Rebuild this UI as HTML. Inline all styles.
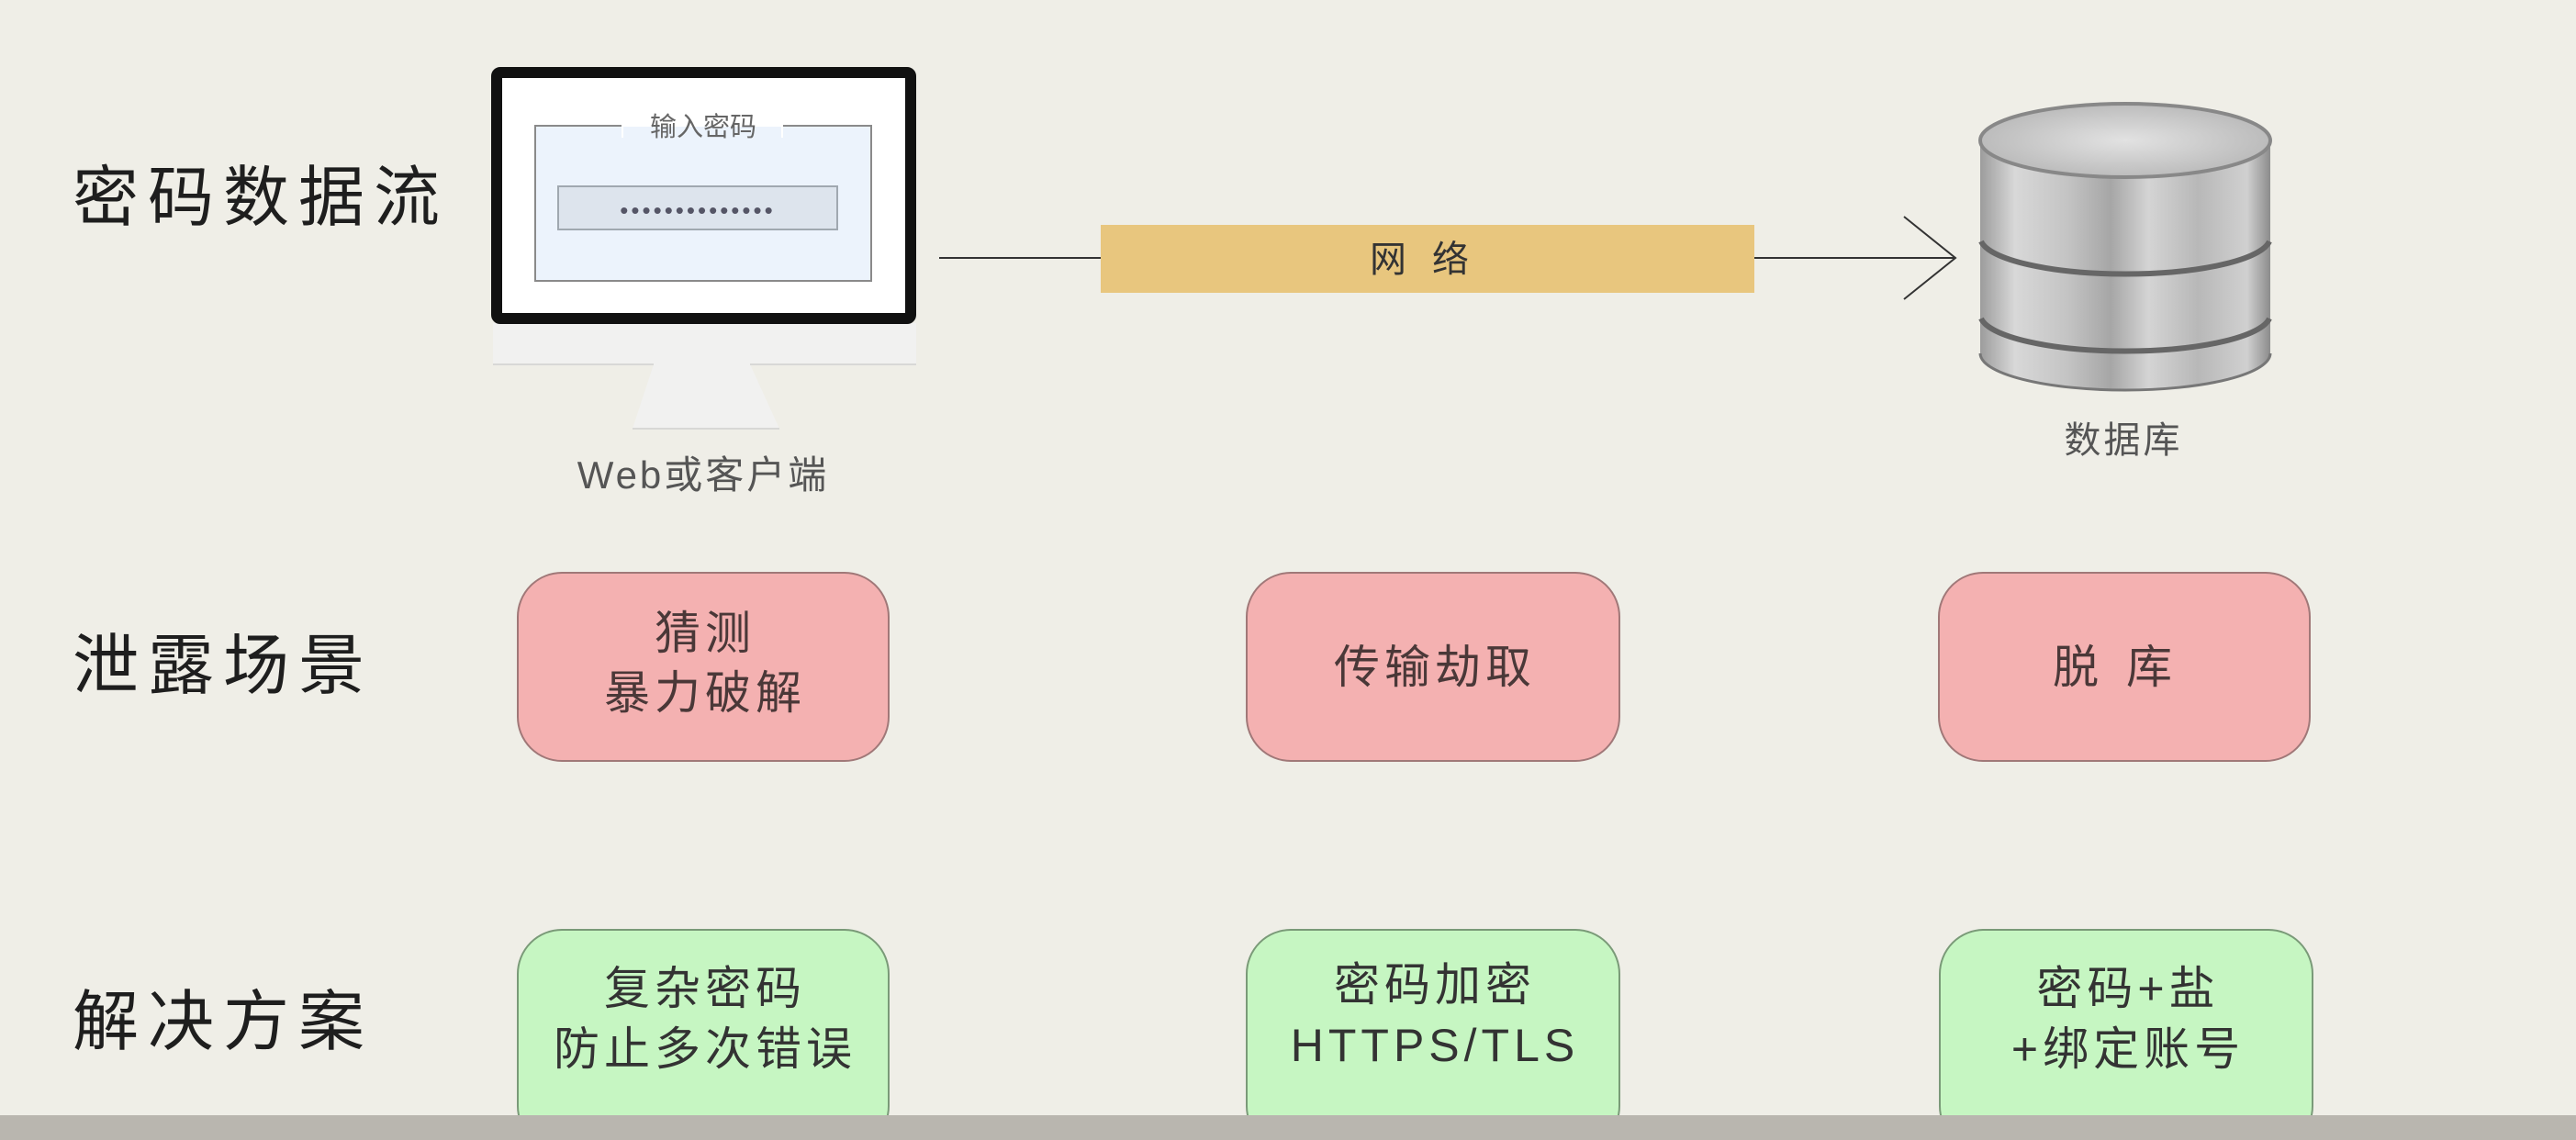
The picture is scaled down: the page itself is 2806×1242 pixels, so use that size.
<!DOCTYPE html>
<html><head><meta charset="utf-8"><style>
html,body{margin:0;padding:0;background:#efeee7;}
svg{display:block}
text{font-family:"Liberation Sans","Noto Sans CJK SC",sans-serif;}
</style></head><body>
<svg width="2806" height="1242" viewBox="0 0 2806 1242" xmlns="http://www.w3.org/2000/svg">
<defs>
<linearGradient id="cyl" x1="0" x2="1" y1="0" y2="0">
<stop offset="0" stop-color="#9c9c9c"/><stop offset="0.12" stop-color="#d8d8d8"/><stop offset="0.3" stop-color="#c4c4c4"/><stop offset="0.45" stop-color="#a6a6a6"/><stop offset="0.58" stop-color="#d4d4d4"/><stop offset="0.75" stop-color="#b8b8b8"/><stop offset="0.92" stop-color="#d0d0d0"/><stop offset="1" stop-color="#8c8c8c"/>
</linearGradient>
<radialGradient id="top" cx="0.5" cy="0.5" r="0.6"><stop offset="0" stop-color="#e2e2e2"/><stop offset="1" stop-color="#b4b4b4"/></radialGradient>
</defs>
<rect width="2806" height="1242" fill="#efeee7"/>
<g font-size="72" fill="#1e1e1e" letter-spacing="10">
<text x="79" y="240">密码数据流</text>
<text x="79" y="750">泄露场景</text>
<text x="79" y="1138">解决方案</text>
</g>
<!-- monitor -->
<path d="M537 352 H998 V397 H817 L849 467 H689 L712 397 H537 Z" fill="#f1f1f0"/>
<line x1="537" y1="397" x2="712" y2="397" stroke="#d8d8d6" stroke-width="2"/>
<line x1="817" y1="397" x2="998" y2="397" stroke="#d8d8d6" stroke-width="2"/>
<line x1="689" y1="467" x2="849" y2="467" stroke="#d8d8d6" stroke-width="2"/>
<rect x="541" y="79" width="451" height="268" rx="4" fill="#fff" stroke="#111" stroke-width="12"/>
<rect x="583" y="137" width="366" height="169" fill="#ecf3fc" stroke="#8a8a8a" stroke-width="2"/>
<rect x="677" y="124" width="176" height="26" fill="#fff"/>
<rect x="679" y="138" width="172" height="12" fill="#ecf3fc"/>
<text x="766" y="148" font-size="29" fill="#666" text-anchor="middle">输入密码</text>
<rect x="608" y="203" width="304" height="47" fill="#dde4ed" stroke="#a0a8b0" stroke-width="2"/>
<text x="760" y="238" font-size="26" fill="#556" text-anchor="middle" letter-spacing="3">••••••••••••••</text>
<text x="766" y="532" font-size="42" fill="#555" text-anchor="middle" letter-spacing="3">Web或客户端</text>
<!-- network -->
<line x1="1023" y1="281" x2="1199" y2="281" stroke="#333" stroke-width="2"/>
<rect x="1199" y="245" width="712" height="74" fill="#e8c67e"/>
<text x="1560" y="296" font-size="40" fill="#333" text-anchor="middle" letter-spacing="28">网络</text>
<line x1="1911" y1="281" x2="2130" y2="281" stroke="#333" stroke-width="2"/>
<polyline points="2074,236 2130,281 2074,326" fill="none" stroke="#333" stroke-width="2"/>
<!-- database -->
<path d="M2157 153 V385 A158 40 0 0 0 2473 385 V153 Z" fill="url(#cyl)"/>
<path d="M2158 263 A158 40 0 0 0 2472 263" fill="none" stroke="#666" stroke-width="6"/>
<path d="M2158 347 A158 40 0 0 0 2472 347" fill="none" stroke="#666" stroke-width="6"/>
<path d="M2157 385 A158 40 0 0 0 2473 385" fill="none" stroke="#777" stroke-width="3"/>
<ellipse cx="2315" cy="153" rx="158" ry="40" fill="url(#top)" stroke="#888" stroke-width="4"/>
<text x="2313" y="493" font-size="40" fill="#555" text-anchor="middle" letter-spacing="3">数据库</text>
<!-- red boxes -->
<g fill="#f4b1b1" stroke="#a07878" stroke-width="2">
<rect x="564" y="624" width="404" height="205" rx="48"/>
<rect x="1358" y="624" width="406" height="205" rx="48"/>
<rect x="2112" y="624" width="404" height="205" rx="48"/>
</g>
<g font-size="50" fill="#4a3838" text-anchor="middle" letter-spacing="5">
<text x="768" y="707">猜测</text>
<text x="768" y="772">暴力破解</text>
<text x="1563" y="744">传输劫取</text>
<text x="2316" y="744" letter-spacing="30">脱库</text>
</g>
<!-- green boxes -->
<g fill="#c6f6c2" stroke="#7a9a78" stroke-width="2">
<rect x="564" y="1013" width="404" height="240" rx="48"/>
<rect x="1358" y="1013" width="406" height="240" rx="48"/>
<rect x="2113" y="1013" width="406" height="240" rx="48"/>
</g>
<g font-size="50" fill="#333" text-anchor="middle" letter-spacing="5">
<text x="768" y="1094">复杂密码</text>
<text x="768" y="1160">防止多次错误</text>
<text x="1563" y="1090">密码加密</text>
<text x="1563" y="1156">HTTPS/TLS</text>
<text x="2318" y="1094">密码+盐</text>
<text x="2318" y="1160">+绑定账号</text>
</g>
<rect x="0" y="1215" width="2806" height="27" fill="#b9b6af"/>
</svg>
</body></html>
